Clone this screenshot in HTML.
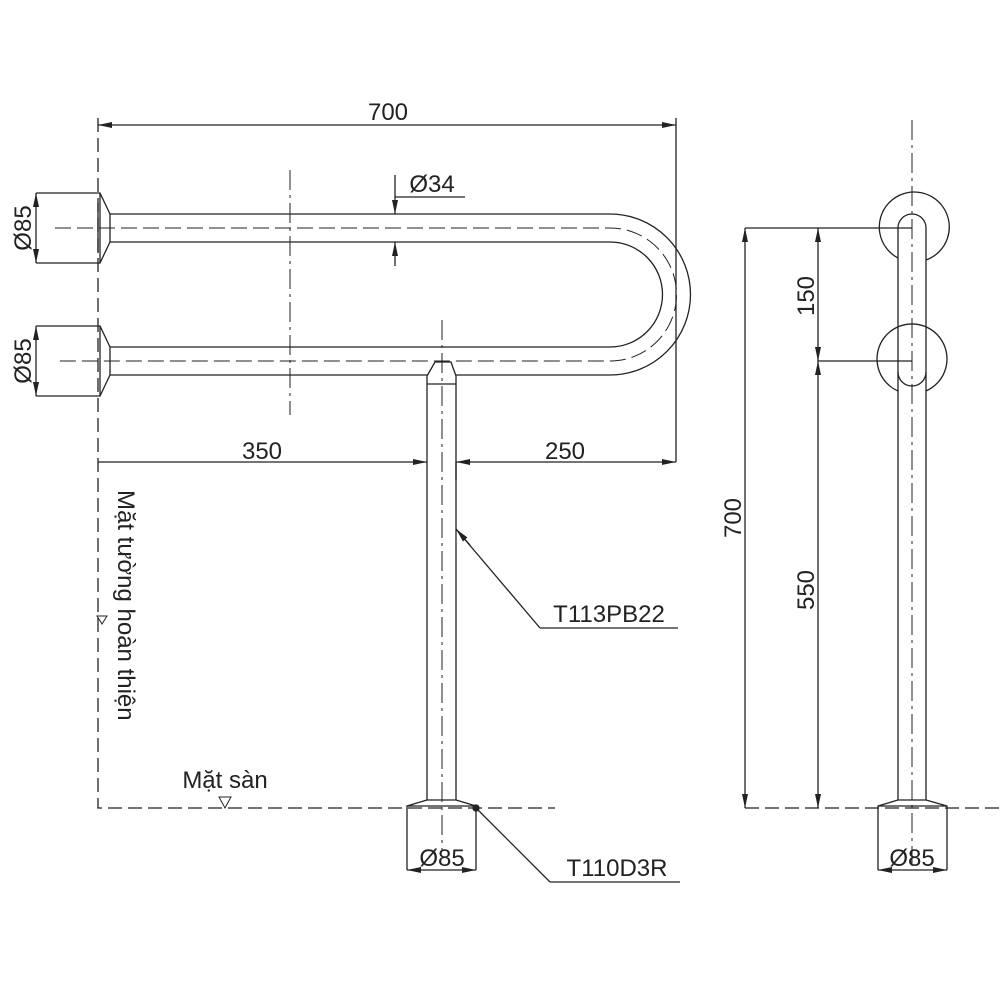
<!DOCTYPE html>
<html><head><meta charset="utf-8"><style>
html,body{margin:0;padding:0;background:#fff}
svg text{font-family:"Liberation Sans",sans-serif;fill:#222}
</style></head><body>
<svg width="1000" height="1000" viewBox="0 0 1000 1000" xmlns="http://www.w3.org/2000/svg">
<defs>
<marker id="a" viewBox="0 0 14 6" refX="14" refY="3" markerWidth="14" markerHeight="6" orient="auto-start-reverse" markerUnits="userSpaceOnUse"><path d="M0,0 L14,3 L0,6 Z" fill="#222"/></marker>
</defs>
<g stroke="#222" stroke-width="1.3" fill="none">
<path d="M98,118 V808 H555" stroke-dasharray="14,6"/>
<path d="M36,193 H100 L110,214 V242 L100,263 H36"/>
<path d="M100,193 V263 M98,203 V253"/>
<path d="M36,326 H100 L110,347 V375 L100,396 H36"/>
<path d="M100,326 V396"/>
<path d="M110,214 H610 A80.5,80.5 0 0 1 610,375 H456"/>
<path d="M427,375 H110"/>
<path d="M110,242 H610 A52.5,52.5 0 0 1 610,347 H110"/>
<path d="M55,228 H610 A66.5,66.5 0 0 1 610,361 H55" stroke-dasharray="16,6" stroke-width="1"/>
<path d="M290,170 V415" stroke-dasharray="20,5,3,5" stroke-width="1"/>
<path d="M435,362 H451 L456,376 V800 M435,362 L427,376 V800 M427,384 H456"/>
<path d="M442,320 V850" stroke-dasharray="20,5,3,5" stroke-width="1"/>
<path d="M427,800 L407,806 V870 M456,800 L476,806 V870 M407,806 H476 M427,800 H456"/>
<path d="M676,118 V462"/>
<path d="M98,125 H676" marker-start="url(#a)" marker-end="url(#a)"/>
<path d="M98,462 H427" marker-end="url(#a)"/>
<path d="M456,462 H676" marker-start="url(#a)" marker-end="url(#a)"/>
<path d="M456,462 V480"/>
<path d="M395,175 V214" marker-end="url(#a)"/>
<path d="M395,266 V242" marker-end="url(#a)"/>
<path d="M395,197 H465"/>
<path d="M36,193 V263" marker-start="url(#a)" marker-end="url(#a)"/>
<path d="M36,326 V396" marker-start="url(#a)" marker-end="url(#a)"/>
<path d="M407,870 H476" marker-start="url(#a)" marker-end="url(#a)"/>
<path d="M540,628 H678 M540,628 L456,529" />
<path d="M456,529 L470,545" marker-start="url(#a)"/>
<path d="M550,882 H680 M550,882 L476,808"/>
<circle cx="476" cy="808" r="3" fill="#222"/>
<path d="M97,616 H107 L102,624 Z" stroke-width="1"/>
<path d="M219,797 H231 L225,808 Z" stroke-width="1"/>
<path d="M912,120 V870" stroke-dasharray="20,5,3,5" stroke-width="1"/>
<path d="M898,258 A35,35 0 1 1 926,260"/>
<path d="M898,391 A35,35 0 1 1 926,391 M898,372 A14,14 0 0 0 926,372"/>
<path d="M898,800 V228 A14,14 0 0 1 926,228 V800"/>
<path d="M898,800 L878,806 V870 M926,800 L947,806 V870 M878,806 H947 M898,800 H926"/>
<path d="M878,870 H947" marker-start="url(#a)" marker-end="url(#a)"/>
<path d="M745,228 H912 M818,361 H912"/>
<path d="M745,808 H1000" stroke-dasharray="14,6"/>
<path d="M745,228 V808" marker-start="url(#a)" marker-end="url(#a)"/>
<path d="M818,228 V361" marker-start="url(#a)" marker-end="url(#a)"/>
<path d="M818,361 V808" marker-start="url(#a)" marker-end="url(#a)"/>
</g>
<g font-size="24">
<text x="388" y="120" text-anchor="middle">700</text>
<text x="262" y="459" text-anchor="middle">350</text>
<text x="565" y="459" text-anchor="middle">250</text>
<text x="432" y="192" text-anchor="middle">Ø34</text>
<text x="442" y="866" text-anchor="middle">Ø85</text>
<text x="912" y="866" text-anchor="middle">Ø85</text>
<text x="609" y="622" text-anchor="middle">T113PB22</text>
<text x="617" y="876" text-anchor="middle">T110D3R</text>
<text transform="translate(31,228) rotate(-90)" text-anchor="middle">Ø85</text>
<text transform="translate(31,361) rotate(-90)" text-anchor="middle">Ø85</text>
<text transform="translate(741,518) rotate(-90)" text-anchor="middle">700</text>
<text transform="translate(814,296) rotate(-90)" text-anchor="middle">150</text>
<text transform="translate(814,590) rotate(-90)" text-anchor="middle">550</text>
<text transform="translate(118,490) rotate(90)" text-anchor="start">Mặt tường hoàn thiện</text>
<text x="225" y="788" text-anchor="middle">Mặt sàn</text>
</g>
</svg>
</body></html>
